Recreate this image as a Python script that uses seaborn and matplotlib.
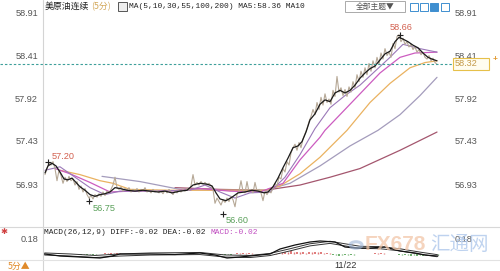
import numpy as np
import pandas as pd
import matplotlib
matplotlib.use("Agg")
import matplotlib.pyplot as plt
import seaborn as sns
from matplotlib.patches import Rectangle, Circle
from matplotlib.lines import Line2D
from matplotlib.transforms import blended_transform_factory

# ---------------- data ----------------
title_name = "美原油连续"
title_period = "(5分)"
ma_text = "MA(5,10,30,55,100,200) MA5:58.36 MA10"
macd_text = "MACD(26,12,9) DIFF:-0.02 DEA:-0.02 "
macd_text2 = "MACD:-0.02"
price_ticks = [58.91, 58.41, 57.92, 57.43, 56.93]
macd_ticks = [0.18]
last_price = 58.32
date_label = "11/22"
date_bar = 301
period_label = "5分▲"

# raw 5-minute price trace, one value every 2 bars
price_val = [
    57.05, 57.12, 57.19, 57.16, 57.20, 57.12, 56.98, 57.10, 57.04, 56.95,
    57.02, 56.97, 57.03, 56.98, 57.00, 56.93, 56.97, 56.88, 56.92, 56.85,
    56.89, 56.82, 56.78, 56.81, 56.77, 56.82, 56.79, 56.83, 56.80, 56.85,
    56.81, 56.86, 56.84, 56.88, 56.93, 57.02, 56.90, 56.88, 56.91, 56.86,
    56.89, 56.87, 56.90, 56.85, 56.88, 56.86, 56.89, 56.85, 56.88, 56.86,
    56.90, 56.85, 56.87, 56.84, 56.88, 56.85, 56.87, 56.84, 56.86, 56.83,
    56.87, 56.84, 56.88, 56.85, 56.82, 56.86, 56.84, 56.87, 56.85, 56.88,
    56.86, 56.89, 56.87, 56.92, 57.05, 56.93, 56.96, 56.93, 56.97, 56.94,
    56.96, 56.93, 56.95, 56.92, 56.88, 56.72, 56.78, 56.74, 56.70, 56.76,
    56.73, 56.78, 56.74, 56.80, 56.76, 56.68, 56.82, 56.86, 56.98, 56.86,
    56.84, 56.97, 56.85, 56.88, 56.84, 56.96, 56.86, 56.88, 56.84, 56.75,
    56.86, 56.82, 56.86, 56.84, 56.90, 56.95, 56.92, 57.02, 57.00, 57.12,
    57.08, 57.20, 57.16, 57.30, 57.36, 57.40, 57.33, 57.42, 57.36, 57.46,
    57.52, 57.58, 57.66, 57.72, 57.80, 57.74, 57.88, 57.80, 57.94, 57.85,
    57.98, 57.88, 57.92, 57.86, 58.02, 57.95, 58.18, 58.00, 58.05, 57.96,
    58.03, 57.95, 58.06, 58.00, 58.12, 58.05, 58.20, 58.12, 58.24, 58.17,
    58.28, 58.20, 58.33, 58.24, 58.36, 58.28, 58.40, 58.32, 58.45, 58.38,
    58.50, 58.42, 58.46, 58.40, 58.56, 58.50, 58.64, 58.66, 58.58, 58.62,
    58.55, 58.58, 58.52, 58.55, 58.49, 58.52, 58.46, 58.49, 58.43, 58.46,
    58.40, 58.38, 58.42, 58.36, 58.39, 58.34, 58.32,
]

ma5_bar = [0, 3, 7, 11, 15, 19, 23, 27, 31, 35, 40, 45, 50, 55, 60, 65, 70, 75,
           82, 90, 98, 105, 113, 120, 127, 135, 142, 148, 155, 162, 167, 171,
           175, 181, 187, 193, 200, 207, 213, 219, 223, 228, 233, 238, 243, 248,
           253, 257, 261, 265, 270, 275, 280, 285, 290, 295, 300, 305, 310, 315,
           320, 325, 330, 335, 340, 345, 350, 354, 358, 363, 368, 373, 378, 383,
           387, 392]
ma5_val = [57.07, 57.15, 57.18, 57.15, 57.08, 57.00, 56.99, 57.01, 56.96, 56.91,
           56.87, 56.82, 56.80, 56.82, 56.83, 56.85, 56.90, 56.89, 56.87, 56.86,
           56.87, 56.86, 56.85, 56.86, 56.84, 56.86, 56.87, 56.93, 56.95, 56.94,
           56.92, 56.84, 56.77, 56.75, 56.79, 56.84, 56.85, 56.87, 56.86, 56.84,
           56.85, 56.91, 57.01, 57.13, 57.24, 57.36, 57.38, 57.43, 57.54, 57.68,
           57.75, 57.86, 57.91, 57.89, 57.99, 58.02, 57.99, 58.02, 58.08, 58.16,
           58.22, 58.27, 58.30, 58.37, 58.44, 58.47, 58.58, 58.63, 58.61, 58.58,
           58.54, 58.51, 58.45, 58.40, 58.38, 58.36]

ma10_bar = [0, 15, 30, 45, 60, 75, 105, 145, 160, 175, 190, 205, 225, 240, 255,
            270, 285, 300, 315, 330, 345, 358, 375, 392]
ma10_val = [57.10, 57.14, 57.02, 56.90, 56.82, 56.86, 56.86, 56.87, 56.93, 56.85,
            56.78, 56.84, 56.85, 57.02, 57.28, 57.58, 57.82, 57.96, 58.08, 58.24,
            58.40, 58.55, 58.50, 58.46]

ma30_bar = [10, 25, 45, 65, 85, 125, 155, 185, 215, 238, 255, 275, 280, 295, 315,
            335, 355, 370, 392]
ma30_val = [57.12, 57.06, 56.96, 56.85, 56.86, 56.86, 56.89, 56.86, 56.85, 56.95,
            57.22, 57.48, 57.56, 57.74, 57.98, 58.22, 58.40, 58.45, 58.46]

ma55_bar = [15, 35, 55, 68, 85, 125, 185, 220, 235, 255, 275, 302, 325, 345, 365,
            380, 392]
ma55_val = [57.10, 57.05, 56.98, 56.95, 56.88, 56.87, 56.87, 56.87, 56.92, 57.06,
            57.25, 57.56, 57.88, 58.10, 58.28, 58.34, 58.36]

ma100_bar = [57, 95, 135, 175, 220, 245, 275, 305, 333, 355, 375, 392]
ma100_val = [57.03, 56.97, 56.88, 56.87, 56.87, 56.95, 57.15, 57.38, 57.56, 57.74,
             57.96, 58.17]

ma200_bar = [130, 175, 220, 255, 285, 315, 355, 392]
ma200_val = [56.90, 56.88, 56.87, 56.93, 57.02, 57.12, 57.33, 57.54]

ext_bar = [3, 44, 178, 355]
ext_val = [57.20, 56.75, 56.60, 58.66]
ext_label = ["57.20", "56.75", "56.60", "58.66"]

diff_bar = [0, 15, 35, 55, 67, 75, 105, 130, 155, 170, 182, 195, 215, 225, 235,
            250, 265, 275, 290, 300, 310, 325, 340, 355, 370, 380, 392]
diff_val = [0.0, -0.024, -0.036, -0.048, -0.024, 0.0, 0.0, -0.006, 0.012, -0.012,
            -0.048, -0.036, -0.012, 0.0, 0.06, 0.108, 0.144, 0.156, 0.144, 0.084,
            0.072, 0.072, 0.084, 0.036, 0.012, -0.012, -0.024]
dea_bar = [0, 25, 50, 75, 105, 155, 180, 205, 225, 245, 265, 285, 300, 315, 335,
           355, 375, 392]
dea_val = [0.0, -0.012, -0.03, -0.012, 0.0, 0.006, -0.024, -0.03, -0.006, 0.05,
           0.11, 0.14, 0.11, 0.08, 0.076, 0.05, 0.01, -0.02]
# MACD histogram, one bar every 6 bars
hist_val = [
    0.000, -0.004, -0.010, -0.014, -0.016, -0.018, -0.014, -0.012, -0.008, -0.004,
    0.008, 0.016, 0.014, 0.006, 0.002, -0.002, 0.002, 0.000, -0.002, 0.002,
    -0.004, -0.002, 0.000, 0.004, 0.006, 0.008, 0.006, -0.004, -0.012, -0.020,
    -0.016, -0.006, 0.012, 0.016, 0.010, 0.004, -0.004, 0.004, 0.012, 0.024,
    0.032, 0.036, 0.030, 0.020, 0.028, 0.030, 0.022, 0.008, -0.010, -0.018,
    -0.014, -0.008, -0.004, 0.004, 0.006, 0.010, 0.008, 0.004, -0.004, -0.010,
    -0.014, -0.018, -0.020, -0.022, -0.020, -0.016,
]

# ---------------- style ----------------
sns.set_theme(style="white")
plt.rcParams["font.family"] = ["Liberation Sans", "Noto Sans CJK SC", "DejaVu Sans"]
CJK = ["Noto Sans CJK SC", "DejaVu Sans"]
MONO = ["Liberation Mono", "DejaVu Sans Mono"]

W, H = 500, 271
fig = plt.figure(figsize=(W / 100, H / 100), dpi=100)
fig.patch.set_facecolor("white")


def box(x0, y0, x1, y1):
    return [x0 / W, 1 - y1 / H, (x1 - x0) / W, (y1 - y0) / H]


def fx(x):
    return x / W


def fy(y):
    return 1 - y / H


def fline(x0, y0, x1, y1, **kw):
    fig.add_artist(Line2D([fx(x0), fx(x1)], [fy(y0), fy(y1)],
                          transform=fig.transFigure, **kw))


# frame lines
fline(43, 0, 43, 271, color="#d4d4d4", lw=0.8)
fline(0, 226.5, 500, 226.5, color="#d8d8d8", lw=0.8)
fline(0, 259.5, 500, 259.5, color="#e2e2e2", lw=0.8)

# ---------------- main price panel ----------------
ax = fig.add_axes(box(43, 8, 447, 225))
ax.set_xlim(-2, 402)
ax.set_ylim(56.470, 58.968)
for s in ax.spines.values():
    s.set_visible(False)
ax.set_xticks([])
ax.set_yticks([])
ax.patch.set_alpha(0)

price_df = pd.DataFrame({"bar": np.arange(len(price_val)) * 2, "price": price_val})

lines = [
    (ma200_bar, ma200_val, "#a4566e", 0.9),
    (ma100_bar, ma100_val, "#a49cbc", 0.9),
    (ma55_bar, ma55_val, "#eab260", 0.9),
    (ma30_bar, ma30_val, "#cc5cc0", 0.9),
    (ma10_bar, ma10_val, "#9a78b8", 0.8),
]
for b, v, c, lw in lines:
    sns.lineplot(x=b, y=v, ax=ax, color=c, lw=lw, estimator=None, sort=False)

sns.lineplot(data=price_df, x="bar", y="price", ax=ax, color="#b6a896", lw=0.8,
             estimator=None, sort=False)
sns.lineplot(x=ma5_bar, y=ma5_val, ax=ax, color="#1a1a1a", lw=0.9,
             estimator=None, sort=False)
ax.set_xlabel("")
ax.set_ylabel("")

# last price dashed line across the whole width
tr = blended_transform_factory(ax.transAxes, ax.transData)
ax.plot([(0 - 43) / 404, (453 - 43) / 404], [last_price, last_price],
        transform=tr, clip_on=False, color="#3d9f9a", lw=0.8, ls=(0, (2.2, 1.8)))

# price labels both sides
for v in price_ticks:
    ax.text((38 - 43) / 404, v, f"{v:.2f}", transform=tr, ha="right", va="center",
            fontsize=6.6, color="#555555")
    ax.text((455 - 43) / 404, v, f"{v:.2f}", transform=tr, ha="left", va="center",
            fontsize=6.6, color="#555555")

# last price box
fig.add_artist(Rectangle((fx(453), fy(70)), (489 - 453) / W, 12 / H,
                         transform=fig.transFigure, facecolor="#fffdf0",
                         edgecolor="#e6c04a", lw=0.8))
fig.text(fx(455), fy(64), f"{last_price:.2f}", ha="left", va="center",
         fontsize=6.6, color="#c49a48")
fig.text(fx(495), fy(60), "+", ha="center", va="center", fontsize=6,
         color="#e0962a", fontweight="bold")

# extreme markers
ext_off = [(4, 5, "left", "#d2604f"), (4, -8, "left", "#5aa05a"),
           (3, -7, "left", "#5aa05a"), (-10, 7, "left", "#d2604f")]
for b, v, lab, (dx, dy, ha, col) in zip(ext_bar, ext_val, ext_label, ext_off):
    ax.plot([b], [v], marker="+", ms=4.5, mew=0.8, color="#222222")
    ax.annotate(lab, (b, v), xytext=(dx * 0.72, dy * 0.72),
                textcoords="offset points", ha=ha, va="center",
                fontsize=6.6, color=col)

# ---------------- MACD panel ----------------
mx = fig.add_axes(box(43, 233, 447, 260))
mx.set_xlim(-2, 402)
mx.set_ylim(-0.072, 0.252)
for s in mx.spines.values():
    s.set_visible(False)
mx.set_xticks([])
mx.set_yticks([])
mx.patch.set_alpha(0)

hist_bar = np.arange(len(hist_val)) * 6
hcol = ["#e07a7a" if h > 0 else "#6aae6a" for h in hist_val]
mx.vlines(hist_bar, 0, hist_val, colors=hcol, lw=1.4)
mx.vlines(hist_bar + 3, 0, np.array(hist_val) * 0.8, colors=hcol, lw=1.0)

sns.lineplot(x=dea_bar, y=dea_val, ax=mx, color="#333333", lw=2.2,
             estimator=None, sort=False)
sns.lineplot(x=dea_bar, y=dea_val, ax=mx, color="white", lw=0.8,
             estimator=None, sort=False)
sns.lineplot(x=diff_bar, y=diff_val, ax=mx, color="#111111", lw=0.9,
             estimator=None, sort=False)
mx.set_xlabel("")
mx.set_ylabel("")

trm = blended_transform_factory(mx.transAxes, mx.transData)
for v in macd_ticks:
    mx.text((38 - 43) / 404, v, f"{v:.2f}", transform=trm, ha="right",
            va="center", fontsize=6.6, color="#555555")
    mx.text((455 - 43) / 404, v, f"{v:.2f}", transform=trm, ha="left",
            va="center", fontsize=6.6, color="#555555", zorder=5)

# watermark
fig.add_artist(Circle((fx(356), fy(245)), 6 / W, transform=fig.transFigure,
                      facecolor="none", edgecolor="#9fb6d8", lw=2.2, alpha=0.6))
fig.text(fx(365), fy(245), "FX678", ha="left", va="center", fontsize=15,
         fontweight="bold", color="#f2c6a8", alpha=0.75)
fig.text(fx(430), fy(245), "汇通网", ha="left", va="center", fontsize=14,
         family=CJK, color="#a9c4ea", alpha=0.75)

# date label
date_x = 43 + (date_bar + 2)
fig.text(fx(date_x), fy(265.5), date_label, ha="center", va="center",
         fontsize=6.6, color="#333333")

# ---------------- header texts ----------------
fig.text(fx(45), fy(6.5), title_name, ha="left", va="center", fontsize=6.4,
         family=CJK, color="#222222")
fig.text(fx(91), fy(6.5), title_period, ha="left", va="center", fontsize=6.4,
         family=CJK, color="#d3a85a")
fig.add_artist(Rectangle((fx(118), fy(11)), 9 / W, 9 / H,
                         transform=fig.transFigure, facecolor="#eeeeee",
                         edgecolor="#555555", lw=0.7))
fig.text(fx(129), fy(7), ma_text, ha="left", va="center", fontsize=5.7,
         family=MONO, color="#222222")

# theme dropdown and icons
fig.add_artist(Rectangle((fx(345), fy(12)), 60 / W, 11 / H,
                         transform=fig.transFigure, facecolor="white",
                         edgecolor="#aaaaaa", lw=0.7))
fig.text(fx(375), fy(6.5), "全部主题▼", ha="center", va="center", fontsize=5.6,
         family=CJK, color="#555555")
for x0, filled in [(410, False), (420, False), (430, True), (441, False)]:
    fig.add_artist(Rectangle((fx(x0), fy(11)), 8 / W, 8 / H,
                             transform=fig.transFigure,
                             facecolor="#3f8fd0" if filled else "white",
                             edgecolor="#3f8fd0", lw=0.7))

# MACD header
fig.text(fx(44), fy(232), macd_text, ha="left", va="center", fontsize=5.7,
         family=MONO, color="#222222")
fig.text(fx(44 + len(macd_text) * 0.6 * 5.7 * 100 / 72), fy(232), macd_text2,
         ha="left", va="center", fontsize=5.7, family=MONO, color="#c04cc0")

# bottom-left period, small icon
fig.text(fx(8), fy(266), period_label, ha="left", va="center", fontsize=6.4,
         family=CJK, color="#e08a2a")
fig.text(fx(4), fy(231), "✱", ha="center", va="center", fontsize=6,
         family=["DejaVu Sans"], color="#d04040")

fig.savefig("out.png", dpi=100)
